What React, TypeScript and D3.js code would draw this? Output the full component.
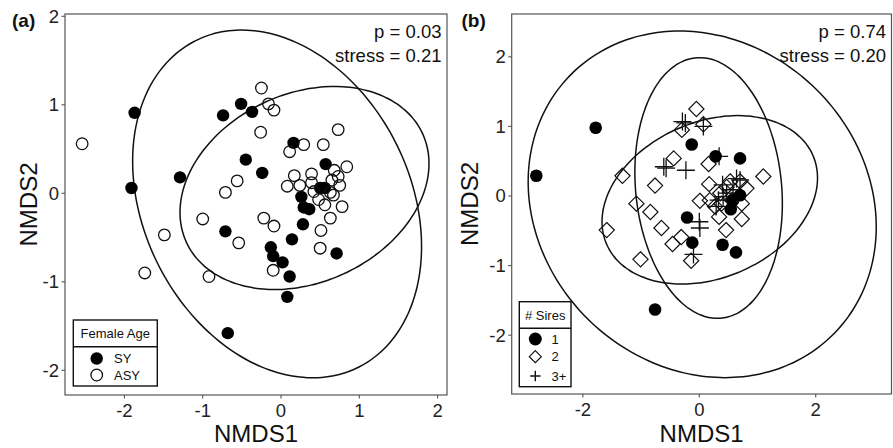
import React from "react";
import * as d3 from "d3";

type Pt = [number, number];
type Ell = { cx: number; cy: number; rx: number; ry: number; rho: number };

// ---------- Panel (a): Female Age ----------
const syPoints: Pt[] = [
  [-1.87, 0.91], [-1.91, 0.06], [-1.29, 0.18], [-0.74, 0.88], [-0.51, 1.01],
  [-0.37, 0.92], [-0.45, 0.38], [-0.24, 0.23], [0.16, 0.57], [-0.71, -0.43],
  [-0.68, -1.58], [-0.13, -0.61], [-0.1, -0.71], [0.02, -0.78], [0.11, -0.94],
  [0.08, -1.17], [0.14, -0.52], [0.28, -0.35], [0.26, -0.04], [0.29, -0.16],
  [0.36, -0.18], [0.57, 0.33], [0.5, 0.06], [0.56, 0.06], [0.71, -0.68],
];
const asyPoints: Pt[] = [
  [-2.54, 0.56], [-1.49, -0.47], [-1.74, -0.9], [-1.0, -0.29], [-0.92, -0.94],
  [-0.71, 0.01], [-0.56, 0.14], [-0.54, -0.56], [-0.25, 1.19], [-0.16, 1.01],
  [-0.09, 0.94], [-0.26, 0.69], [-0.22, -0.28], [-0.09, -0.37], [-0.1, -0.87],
  [0.11, 0.47], [0.29, 0.55], [0.54, 0.55], [0.73, 0.72], [0.17, 0.2],
  [0.08, 0.08], [0.24, 0.09], [0.39, 0.22], [0.39, 0.12], [0.42, 0.02],
  [0.48, -0.07], [0.56, -0.13], [0.63, 0.01], [0.67, -0.02], [0.84, 0.3],
  [0.73, 0.19], [0.65, 0.15], [0.68, 0.26], [0.75, 0.09], [0.78, -0.15],
  [0.63, -0.28], [0.51, -0.42], [0.5, -0.62],
];
const ellipsesA: Ell[] = [
  { cx: -0.05, cy: -0.12, rx: 1.845, ry: 1.965, rho: -0.245 },
  { cx: 0.3, cy: 0.06, rx: 1.59, ry: 1.147, rho: 0.24 },
];
const xDomainA: Pt = [-2.759, 2.12];
const yDomainA: Pt = [-2.279, 2.026];
const xTicksA = [-2, -1, 0, 1, 2];
const yTicksA = [-2, -1, 0, 1, 2];
const statsA = ["p = 0.03", "stress = 0.21"];
const legendA = { title: "Female Age", labels: ["SY", "ASY"] };

// ---------- Panel (b): # Sires ----------
const sires1: Pt[] = [
  [-2.8, 0.29], [-1.78, 0.98], [-0.76, -1.63], [-0.13, 0.74], [0.28, 0.57],
  [0.7, 0.54], [-0.21, -0.31], [-0.12, -0.67], [0.4, -0.7], [0.63, -0.81],
  [0.54, -0.19], [0.7, 0.01], [0.58, -0.06],
];
const sires2: Pt[] = [
  [-0.05, 1.25], [-0.3, 0.95], [0.07, 1.03], [-0.44, 0.54], [0.16, 0.46],
  [-1.32, 0.29], [-0.76, 0.15], [-1.08, -0.11], [-0.84, -0.23], [-1.59, -0.49],
  [-0.65, -0.46], [-0.31, -0.59], [-0.46, -0.69], [-1.01, -0.91], [-0.14, -0.93],
  [0.46, -0.49], [0.73, -0.33], [0.34, -0.3], [1.1, 0.28], [0.01, -0.07],
  [0.17, 0.17], [0.18, -0.06], [0.36, 0.04], [0.47, 0.13], [0.56, -0.06],
  [0.81, 0.11], [0.7, 0.21], [0.38, -0.11], [0.27, -0.15], [0.73, -0.11],
  [0.53, 0.21],
];
const sires3: Pt[] = [
  [-0.29, 1.07], [-0.24, 1.05], [0.07, 1.0], [-0.61, 0.42], [-0.57, 0.4],
  [-0.23, 0.37], [0.34, 0.57], [0.01, -0.46], [0.0, -0.37], [-0.1, -0.84],
  [0.7, 0.23], [0.4, 0.16], [0.33, -0.06], [0.29, -0.15], [0.47, 0.04],
  [0.58, 0.09], [0.41, -0.01], [0.64, 0.25],
];
const ellipsesB: Ell[] = [
  { cx: 0.05, cy: -0.12, rx: 2.99, ry: 2.49, rho: -0.13 },
  { cx: 0.16, cy: 0.115, rx: 1.267, ry: 1.873, rho: -0.12 },
  { cx: 0.18, cy: -0.055, rx: 1.851, ry: 1.21, rho: 0.26 },
];
const xDomainB: Pt = [-3.223, 3.302];
const yDomainB: Pt = [-2.845, 2.615];
const xTicksB = [-2, 0, 2];
const yTicksB = [-2, -1, 0, 1, 2];
const statsB = ["p = 0.74", "stress = 0.20"];
const legendB = { title: "# Sires", labels: ["1", "2", "3+"] };

const FONT = "'Liberation Sans', Arial, Helvetica, sans-serif";

function ellipsePath(e: Ell, xs: d3.ScaleLinear<number, number>, ys: d3.ScaleLinear<number, number>) {
  const s = Math.sqrt(1 - e.rho * e.rho);
  const pts: Pt[] = d3.range(0, 360, 3).map((deg) => {
    const t = (deg * Math.PI) / 180;
    const x = e.cx + e.rx * Math.cos(t);
    const y = e.cy + e.ry * (e.rho * Math.cos(t) + s * Math.sin(t));
    return [xs(x), ys(y)];
  });
  return d3.line().curve(d3.curveCardinalClosed)(pts) || "";
}

const diamond = (x: number, y: number, h: number) =>
  `M${x},${y - h}L${x + h},${y}L${x},${y + h}L${x - h},${y}Z`;
const cross = (x: number, y: number, h: number) =>
  `M${x - h},${y}H${x + h}M${x},${y - h}V${y + h}`;

type PanelProps = {
  left: number; right: number; top: number; bottom: number;
  xDomain: Pt; yDomain: Pt; xTicks: number[]; yTicks: number[];
  ellipses: Ell[]; stats: string[]; tag: string; yTitleX: number; tagX: number;
  children: (xs: d3.ScaleLinear<number, number>, ys: d3.ScaleLinear<number, number>) => React.ReactNode;
};

function Panel(p: PanelProps) {
  const xs = d3.scaleLinear().domain(p.xDomain).range([p.left, p.right]);
  const ys = d3.scaleLinear().domain(p.yDomain).range([p.bottom, p.top]);
  const cx = (p.left + p.right) / 2;
  const cy = (p.top + p.bottom) / 2;
  return (
    <g>
      <defs>
        <clipPath id={`clip-${p.tag}`}>
          <rect x={p.left} y={p.top} width={p.right - p.left} height={p.bottom - p.top} />
        </clipPath>
      </defs>
      <rect x={p.left} y={p.top} width={p.right - p.left} height={p.bottom - p.top} fill="white" stroke="#555" strokeWidth={1.2} />
      <g clipPath={`url(#clip-${p.tag})`}>
        {p.ellipses.map((e, i) => (
          <path key={i} d={ellipsePath(e, xs, ys)} fill="none" stroke="#111" strokeWidth={1.5} />
        ))}
        {p.children(xs, ys)}
      </g>
      {p.xTicks.map((t) => (
        <g key={"x" + t}>
          <line x1={xs(t)} x2={xs(t)} y1={p.bottom} y2={p.bottom + 3.5} stroke="#555" strokeWidth={1.1} />
          <text x={xs(t)} y={p.bottom + 22} textAnchor="middle" fontSize={18.5} fill="#222" fontFamily={FONT}>
            {t < 0 ? "-" + Math.abs(t) : String(t)}
          </text>
        </g>
      ))}
      {p.yTicks.map((t) => (
        <g key={"y" + t}>
          <line x1={p.left - 3.5} x2={p.left} y1={ys(t)} y2={ys(t)} stroke="#555" strokeWidth={1.1} />
          <text x={p.left - 6} y={ys(t) + 6.5} textAnchor="end" fontSize={18.5} fill="#222" fontFamily={FONT}>
            {t < 0 ? "-" + Math.abs(t) : String(t)}
          </text>
        </g>
      ))}
      <text x={cx} y={442} textAnchor="middle" fontSize={24} fill="#111" fontFamily={FONT}>NMDS1</text>
      <text transform={`translate(${p.yTitleX},${cy}) rotate(-90)`} textAnchor="middle" fontSize={24} fill="#111" fontFamily={FONT}>NMDS2</text>
      {p.stats.map((s, i) => (
        <text key={s} x={p.right - 5.5} y={37.5 + i * 24} textAnchor="end" fontSize={18.5} fill="#111" fontFamily={FONT}>{s}</text>
      ))}
      <text x={p.tagX} y={27} fontSize={19} fontWeight="bold" fill="#111" fontFamily={FONT}>{`(${p.tag})`}</text>
    </g>
  );
}

export default function App() {
  return (
    <svg width={893} height={448} viewBox="0 0 893 448" style={{ position: "absolute", left: 0, top: 0, background: "white" }}>
      <rect width={893} height={448} fill="white" />
      <Panel left={65} right={447} top={14} bottom={395} xDomain={xDomainA} yDomain={yDomainA}
        xTicks={xTicksA} yTicks={yTicksA} ellipses={ellipsesA} stats={statsA} tag="a" yTitleX={37} tagX={12}>
        {(xs, ys) => (
          <g>
            {syPoints.map((d, i) => (
              <circle key={"s" + i} cx={xs(d[0])} cy={ys(d[1])} r={6.2} fill="#000" />
            ))}
            {asyPoints.map((d, i) => (
              <circle key={"a" + i} cx={xs(d[0])} cy={ys(d[1])} r={5.8} fill="none" stroke="#111" strokeWidth={1.3} />
            ))}
          </g>
        )}
      </Panel>
      <Panel left={511.7} right={891.5} top={14} bottom={394} xDomain={xDomainB} yDomain={yDomainB}
        xTicks={xTicksB} yTicks={yTicksB} ellipses={ellipsesB} stats={statsB} tag="b" yTitleX={478} tagX={461.5}>
        {(xs, ys) => (
          <g>
            {sires2.map((d, i) => (
              <path key={"d" + i} d={diamond(xs(d[0]), ys(d[1]), 7.6)} fill="none" stroke="#111" strokeWidth={1.2} />
            ))}
            {sires3.map((d, i) => (
              <path key={"c" + i} d={cross(xs(d[0]), ys(d[1]), 9)} fill="none" stroke="#111" strokeWidth={1.3} />
            ))}
            {sires1.map((d, i) => (
              <circle key={"o" + i} cx={xs(d[0])} cy={ys(d[1])} r={6.3} fill="#000" />
            ))}
          </g>
        )}
      </Panel>

      {/* Legend (a) */}
      <g fontFamily={FONT} fill="#111">
        <rect x={73.3} y={320} width={84} height={66} fill="white" stroke="#111" strokeWidth={1.4} />
        <line x1={73.3} x2={157.3} y1={346.7} y2={346.7} stroke="#111" strokeWidth={1.4} />
        <text x={115.3} y={338} textAnchor="middle" fontSize={13}>{legendA.title}</text>
        <circle cx={96.7} cy={358.5} r={6.2} fill="#000" />
        <circle cx={96.7} cy={375} r={5.8} fill="none" stroke="#111" strokeWidth={1.3} />
        <text x={114} y={362.8} fontSize={13}>{legendA.labels[0]}</text>
        <text x={114} y={379.5} fontSize={13}>{legendA.labels[1]}</text>
      </g>

      {/* Legend (b) */}
      <g fontFamily={FONT} fill="#111">
        <rect x={519.3} y={301.7} width={51.7} height={85} fill="white" stroke="#111" strokeWidth={1.4} />
        <line x1={519.3} x2={571} y1={328.3} y2={328.3} stroke="#111" strokeWidth={1.4} />
        <text x={545.2} y={320} textAnchor="middle" fontSize={13}>{legendB.title}</text>
        <circle cx={535.3} cy={339} r={6.5} fill="#000" />
        <path d={diamond(535.3, 356.7, 6)} fill="none" stroke="#111" strokeWidth={1.2} />
        <path d={cross(535.3, 376, 5.2)} fill="none" stroke="#111" strokeWidth={1.4} />
        <text x={551.5} y={343.5} fontSize={13}>{legendB.labels[0]}</text>
        <text x={551.5} y={361.2} fontSize={13}>{legendB.labels[1]}</text>
        <text x={551.5} y={380.5} fontSize={13}>{legendB.labels[2]}</text>
      </g>
    </svg>
  );
}
